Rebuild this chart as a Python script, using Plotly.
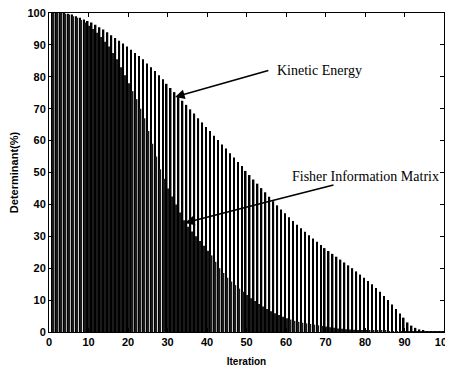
import plotly.graph_objects as go

iterations = list(range(1, 101))

kinetic_energy = [
    100, 100, 100, 100, 99.8, 99.5, 99, 98.5, 98, 97.5,
    97, 96.3, 95.5, 94.8, 94, 93, 92.2, 91.3, 90.4, 89.5,
    88.5, 87.5, 86.5, 85.5, 84.2, 83, 81.8, 80.5, 79.2, 77.8,
    76.5, 75.2, 73.8, 72.5, 71.2, 69.8, 68.5, 67, 65.7, 64.3,
    63, 61.5, 60.2, 58.8, 57.5, 56, 54.7, 53.3, 52, 50.5,
    49.2, 47.8, 46.5, 45.1, 43.8, 42.4, 41, 39.7, 38.4, 37.2,
    36, 34.8, 33.6, 32.5, 31.4, 30.3, 29.3, 28.3, 27.3, 26.3,
    25.4, 24.5, 23.6, 22.7, 21.8, 20.9, 20, 19, 18, 17,
    16, 15, 13.8, 12.6, 11.3, 10, 8.6, 7.2, 5.8, 4.5,
    3, 2, 1.3, 0.8, 0.5, 0.3, 0.2, 0.15, 0.1, 0.1,
]

fisher_information = [
    100, 100, 100, 99.8, 99.5, 99, 98.5, 97.8, 97, 96,
    95, 93.8, 92.5, 91, 89.5, 87.5, 85.5, 83, 80.5, 78,
    75.5, 73, 70, 67, 63, 59, 55, 51, 48, 45,
    42.5, 40, 37.5, 35, 33, 31.5, 30, 28.5, 27, 25.5,
    24, 22, 20, 18.5, 17, 15.8, 14.7, 13.6, 12.6, 11.6,
    10.6, 9.7, 8.8, 8, 7.2, 6.5, 5.9, 5.3, 4.8, 4.3,
    3.9, 3.5, 3.2, 2.9, 2.7, 2.5, 2.3, 2.1, 1.9, 1.7,
    1.5, 1.3, 1.1, 1, 0.9, 0.8, 0.7, 0.6, 0.5, 0.5,
    0.45, 0.4, 0.4, 0.35, 0.35, 0.3, 0.3, 0.3, 0.25, 0.25,
    0.2, 0.2, 0.2, 0.15, 0.15, 0.1, 0.1, 0.1, 0.1, 0.1,
]

x_ticks = [0, 10, 20, 30, 40, 50, 60, 70, 80, 90, 100]
y_ticks = [0, 10, 20, 30, 40, 50, 60, 70, 80, 90, 100]

fig = go.Figure()
fig.add_trace(go.Bar(x=iterations, y=kinetic_energy, name="Kinetic Energy",
                     marker=dict(color="#000000", line=dict(width=0))))
fig.add_trace(go.Bar(x=iterations, y=fisher_information, name="Fisher Information Matrix",
                     marker=dict(color="#1a1a1a", line=dict(width=0))))

axis_common = dict(
    showgrid=False, zeroline=False, showline=True, linecolor="black", linewidth=1,
    mirror="ticks", ticks="inside", ticklen=4, tickcolor="black", automargin=False,
    ticklabeloverflow="allow",
    tickfont=dict(family="Liberation Sans", size=11, color="black", weight="bold"),
)
fig.update_xaxes(range=[0, 100], tickvals=x_ticks,
                 title=dict(text="Iteration", font=dict(family="Liberation Sans", size=10, color="black", weight="bold"), standoff=11),
                 **axis_common)
fig.update_yaxes(range=[0, 100], tickvals=y_ticks,
                 title=dict(text="Determinant(%)", font=dict(family="Liberation Sans", size=11, color="black", weight="bold"), standoff=8),
                 **axis_common)

fig.add_annotation(x=31.9, y=73.7, ax=55.9, ay=82.1, xref="x", yref="y", axref="x", ayref="y",
                   showarrow=True, arrowhead=2, arrowsize=1.2, arrowwidth=1.6, arrowcolor="black", text="")
fig.add_annotation(x=57.2, y=82.1, xref="x", yref="y", text="Kinetic Energy", showarrow=False,
                   xanchor="left", yanchor="middle",
                   font=dict(family="Liberation Serif", size=14, color="black"))
fig.add_annotation(x=34.4, y=34.2, ax=72.4, ay=46.2, xref="x", yref="y", axref="x", ayref="y",
                   showarrow=True, arrowhead=2, arrowsize=1.2, arrowwidth=1.6, arrowcolor="black", text="")
fig.add_annotation(x=61, y=48.8, xref="x", yref="y", text="Fisher Information Matrix", showarrow=False,
                   xanchor="left", yanchor="middle",
                   font=dict(family="Liberation Serif", size=14, color="black"))

fig.update_layout(
    width=445, height=359, barmode="group", bargap=0.22, bargroupgap=0,
    showlegend=False, plot_bgcolor="white", paper_bgcolor="white",
    margin=dict(l=41, r=9, t=5, b=35),
)

fig.write_html("out.html")
